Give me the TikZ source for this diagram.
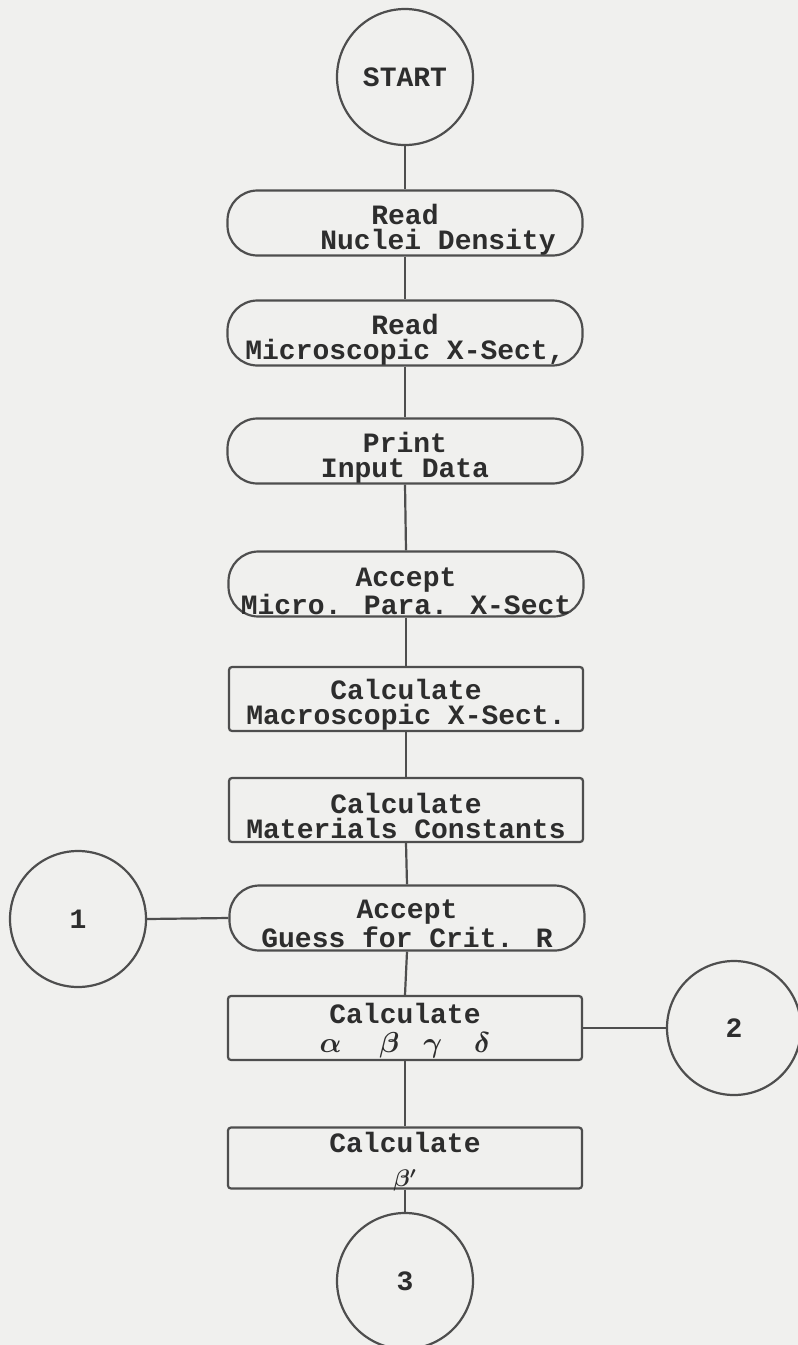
\documentclass[tikz,border=0pt]{standalone}
\usepackage{fontspec}
\usepackage{bm}
\newfontfamily\typewr{Liberation Mono}
\definecolor{paper}{RGB}{240,240,238}
\definecolor{ink}{RGB}{78,78,78}
\definecolor{typeink}{RGB}{45,45,45}
\begin{document}
\begin{tikzpicture}[x=0.5pt,y=-0.5pt,
  every node/.style={font=\typewr\bfseries\fontsize{14}{12.5}\selectfont, text=typeink},
  flow/.style={draw=ink, line width=1.1pt},
  connector/.style={flow, circle, minimum size=68pt, inner sep=0pt},
  iobox/.style={flow, rectangle, rounded corners=15pt, minimum width=177.5pt,
                minimum height=32.5pt, inner sep=0pt},
  procbox/.style={flow, rectangle, rounded corners=1.5pt, minimum width=177pt,
                  minimum height=32pt, inner sep=0pt},
  boxtext/.style={inner sep=0pt, align=center},
  link/.style={draw=ink, line width=1.1pt}]

% paper
\fill[paper] (0,0) rectangle (798,1345);
\useasboundingbox (0,0) rectangle (798,1345);

% main column: shapes
\node[connector] (start) at (405,77) {START};
\node[iobox] (b1) at (405,223) {};
\node[iobox] (b2) at (405,333) {};
\node[iobox] (b3) at (405,451) {};
\node[iobox] (b4) at (406,584) {};
\node[procbox] (b5) at (406,699) {};
\node[procbox] (b6) at (406,810) {};
\node[iobox] (b7) at (407,918) {};
\node[procbox] (b8) at (405,1028) {};
\node[procbox, minimum height=30.5pt] (b9) at (405,1158) {};
\node[connector] (c3) at (405,1281) {3};

% main column: typed labels, set a little low in each box
\node[boxtext] (t1) at ([yshift=-3.5pt]b1.center) {Read\\\hspace*{33pt}Nuclei Density};
\node[boxtext] (t2) at ([yshift=-3.5pt]b2.center) {Read\\Microscopic X-Sect,};
\node[boxtext] (t3) at ([yshift=-3.5pt]b3.center) {Print\\Input Data};
\node[boxtext] (t4) at ([yshift=-3.5pt]b4.center) {Accept\\Micro. Para. X-Sect};
\node[boxtext] (t5) at ([yshift=-3pt]b5.center) {Calculate\\Macroscopic X-Sect.};
\node[boxtext] (t6) at ([yshift=-3pt]b6.center) {Calculate\\Materials Constants};
\node[boxtext] (t7) at ([yshift=-3pt]b7.center) {Accept\\Guess for Crit. R};
\node[boxtext] (t8) at ([yshift=-1.5pt]b8.center)
  {Calculate\\[2pt]{\Large$\bm{\alpha}$\hspace{19pt}$\bm{\beta}$\hspace{12pt}$\bm{\gamma}$\hspace{16pt}$\bm{\delta}$\hspace{15pt}}};
\node[boxtext] (t9) at ([yshift=-2pt]b9.center) {Calculate\\[4.5pt]{\large$\bm{\beta'}$}};

% off-page connectors
\node[connector] (c1) at (78,919) {1};
\node[connector, minimum size=67pt] (c2) at (734,1028) {2};

% flow lines
\draw[link] (start.south) -- (b1.north);
\draw[link] (b1.south) -- (b2.north);
\draw[link] (b2.south) -- (b3.north);
\draw[link] (b3.south) -- (b4.north);
\draw[link] (b4.south) -- (b5.north);
\draw[link] (b5.south) -- (b6.north);
\draw[link] (b6.south) -- (b7.north);
\draw[link] (b7.south) -- (b8.north);
\draw[link] (b8.south) -- (b9.north);
\draw[link] (b9.south) -- (c3.north);
\draw[link] (c1.east) -- (b7.west);
\draw[link] (b8.east) -- (c2.west);
\end{tikzpicture}
\end{document}
